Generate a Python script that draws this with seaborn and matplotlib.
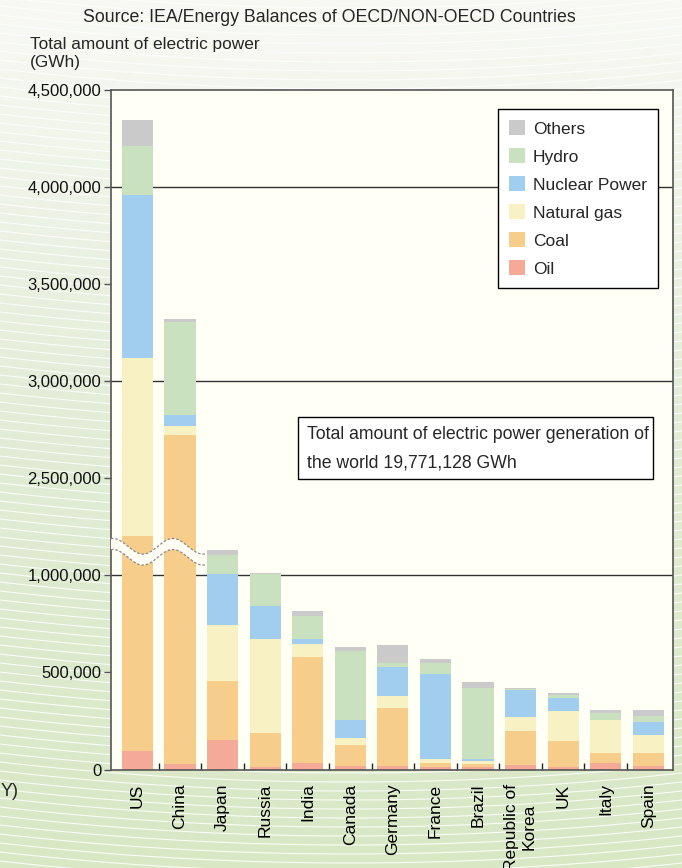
import numpy as np
import pandas as pd
import matplotlib
matplotlib.use("Agg")
import matplotlib.pyplot as plt
import matplotlib.transforms as mtransforms
from matplotlib.patches import Patch, Rectangle
import seaborn as sns

# ---------------- data (GWh) ----------------
countries = ["US", "China", "Japan", "Russia", "India", "Canada", "Germany",
             "France", "Brazil", "Republic of\nKorea", "UK", "Italy", "Spain"]
oil = [95000, 28000, 152000, 13000, 34000, 18000, 18000, 13000, 13000, 23000, 13000, 34000, 18000]
coal = [2108000, 2696000, 304000, 175000, 546000, 108000, 299000, 21000, 15000, 175000, 134000, 52000, 68000]
natural_gas = [918000, 47000, 289000, 485000, 67000, 37000, 62000, 21000, 16000, 72000, 155000, 169000, 92000]
nuclear = [840000, 56000, 263000, 170000, 26000, 92000, 149000, 437000, 11000, 140000, 68000, 0, 67000]
hydro = [248000, 480000, 98000, 162000, 118000, 356000, 21000, 57000, 365000, 5000, 14000, 36000, 31000]
others = [139000, 15000, 25000, 6000, 26000, 20000, 93000, 21000, 31000, 5000, 10000, 16000, 31000]

sources = ["Oil", "Coal", "Natural gas", "Nuclear Power", "Hydro", "Others"]
series = [oil, coal, natural_gas, nuclear, hydro, others]
colors = ["#F5A997", "#F7CD8B", "#F8F1C3", "#A1CDEE", "#C9E1BE", "#CACACA"]

yticks = [0, 500000, 1000000, 2500000, 3000000, 3500000, 4000000, 4500000]
grid_values = [1000000, 3000000, 4000000]
title = "Source: IEA/Energy Balances of OECD/NON-OECD Countries"
ylabel_lines = ["Total amount of electric power", "(GWh)"]
note_lines = ["Total amount of electric power generation of", "the world 19,771,128 GWh"]
edge_note = "Y)"

# broken axis: values between BREAK and BREAK+GAP are squeezed out
BREAK, GAP, EPS = 1160000.0, 1000000.0, 1e-3


def fwd(v):
    v = np.asarray(v, dtype=float)
    return np.where(v <= BREAK, v,
                    np.where(v <= BREAK + GAP, BREAK + (v - BREAK) * EPS,
                             v - GAP + GAP * EPS))


def inv(d):
    d = np.asarray(d, dtype=float)
    return np.where(d <= BREAK, d,
                    np.where(d <= BREAK + GAP * EPS, BREAK + (d - BREAK) / EPS,
                             d + GAP - GAP * EPS))


df = pd.DataFrame({"country": countries})
cum = np.zeros(len(countries))
for name, vals in zip(sources, series):
    cum = cum + np.array(vals, dtype=float)
    df[name] = cum.copy()

# ---------------- figure ----------------
sns.set_theme(style="white")
plt.rcParams["font.family"] = ["Liberation Sans", "DejaVu Sans"]

W, H = 682, 868
fig = plt.figure(figsize=(W / 100, H / 100), dpi=100)

# background
bg = fig.add_axes([0, 0, 1, 1], zorder=-10)
bg.set_xlim(0, 1)
bg.set_ylim(0, 1)
bg.axis("off")
top_c = np.array(matplotlib.colors.to_rgb("#F8F9F4"))
mid_c = np.array(matplotlib.colors.to_rgb("#E2ECD6"))
bot_c = np.array(matplotlib.colors.to_rgb("#D8E8C5"))
t = np.linspace(0, 1, 300)[:, None]
grad = np.where(t < 0.5, top_c + (mid_c - top_c) * (t / 0.5),
                mid_c + (bot_c - mid_c) * ((t - 0.5) / 0.5))
bg.imshow(grad[:, None, :].repeat(2, axis=1), extent=[0, 1, 0, 1], aspect="auto",
          origin="upper")
xs = np.linspace(0, W, 120)
for y0 in np.arange(-10, H + 40, 9):
    ys = y0 - 20 * ((xs - 350) / 350) ** 2
    bg.plot(xs / W, 1 - ys / H, color="white", lw=0.8, alpha=0.85)

# main axes
ax = fig.add_axes([111 / W, 1 - 769.5 / H, 562 / W, 679.5 / H])
ax.set_facecolor("#FFFFF6")

for name, col in reversed(list(zip(sources, colors))):
    sns.barplot(data=df, x="country", y=name, color=col, saturation=1,
                width=0.73, linewidth=0, ax=ax, zorder=2, errorbar=None)

ax.set_yscale("function", functions=(fwd, inv))
ax.set_ylim(0, 4500000)
ax.set_xlim(-0.62, 12.58)
ax.set_xlabel("")
ax.set_ylabel("")

for v in grid_values:
    ax.axhline(v, color="#333333", lw=1, zorder=1)

ax.set_yticks(yticks)
ax.set_yticklabels([f"{v:,}" for v in yticks])
ax.set_xticks(range(len(countries)))
ax.set_xticklabels(countries, rotation=90, ha="center", va="top",
                   multialignment="center")
ax.set_xticks(np.arange(len(countries) - 1) + 0.5, minor=True)
ax.tick_params(axis="x", which="major", length=0, pad=10, labelsize=12.5,
               labelcolor="black")
ax.tick_params(axis="x", which="minor", direction="in", length=5, width=1,
               color="#222222", bottom=True)
ax.tick_params(axis="y", which="major", direction="out", length=5, width=1,
               color="#555555", pad=2, labelsize=12, labelcolor="#111111", left=True)
for s in ax.spines.values():
    s.set_color("#555555")
    s.set_linewidth(1.2)

# wavy break band across US and China
trans = mtransforms.blended_transform_factory(ax.transData, ax.transAxes)
bx = np.linspace(-0.622, 1.585, 200)
center = 0.3204 - 0.01148 * np.cos(2 * np.pi * (bx - 0.129) / 1.409)
upper = center + 0.0081
lower = center - 0.0081
ax.fill(np.concatenate([bx, bx[::-1]]), np.concatenate([upper, lower[::-1]]),
        transform=trans, facecolor="#FFFFF6", edgecolor="none", zorder=5,
        clip_on=False)
for edge in (upper, lower):
    ax.plot(bx, edge, transform=trans, color="#888888", lw=0.9,
            ls=(0, (2, 1.5)), zorder=6, clip_on=False)

# legend
handles = [Patch(facecolor=c, edgecolor="none", label=n)
           for n, c in reversed(list(zip(sources, colors)))]
leg = ax.legend(handles=handles, loc="upper left", bbox_to_anchor=(0.6886, 0.972),
                frameon=True, fancybox=False, edgecolor="black", facecolor="white",
                framealpha=1, fontsize=12.5, handlelength=0.9, handleheight=0.9,
                handletextpad=0.45, labelspacing=0.68, borderpad=0.65,
                borderaxespad=0)
leg.get_frame().set_linewidth(1)
leg.set_zorder(10)

# note box
ax.add_patch(Rectangle((0.3327, 0.4275), 0.6317, 0.0913, transform=ax.transAxes,
                       facecolor="white", edgecolor="black", lw=1, zorder=9))
ax.text(0.3488, 0.4923, note_lines[0], transform=ax.transAxes, ha="left",
        va="center", fontsize=12.7, zorder=10)
ax.text(0.3488, 0.451, note_lines[1], transform=ax.transAxes, ha="left",
        va="center", fontsize=12.7, zorder=10)

# figure texts
fig.text(329 / W, 1 - 17 / H, title, ha="center", va="center", fontsize=12.8)
fig.text(30 / W, 1 - 44 / H, ylabel_lines[0], ha="left", va="center", fontsize=12.4)
fig.text(30 / W, 1 - 63 / H, ylabel_lines[1], ha="left", va="center", fontsize=12.4)
fig.text(1 / W, 1 - 792 / H, edge_note, ha="left", va="center", fontsize=13)

fig.savefig("out.png", dpi=100)
